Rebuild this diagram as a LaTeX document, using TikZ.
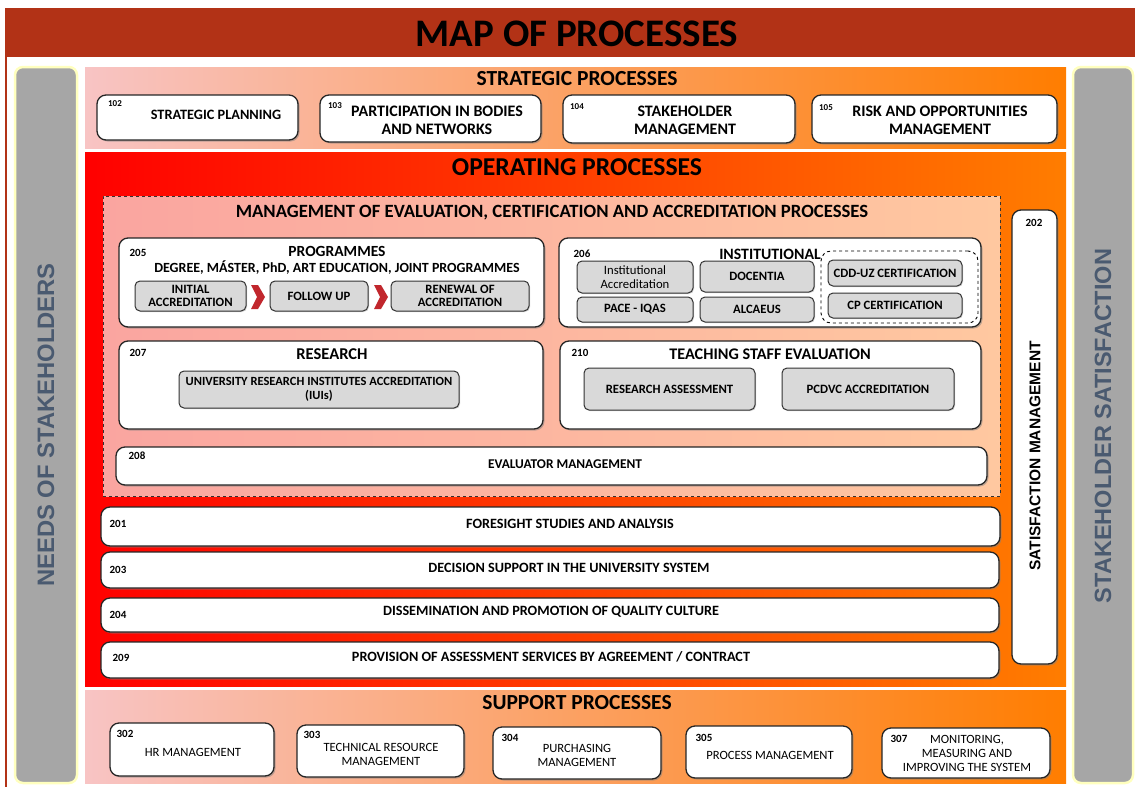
\documentclass[tikz,border=0pt]{standalone}
\usepackage{fontspec}
\setmainfont{Carlito}
\newfontfamily\arialb{Liberation Sans}
\usetikzlibrary{shadows}
\definecolor{titlered}{RGB}{178,50,22}
\definecolor{sidegray}{RGB}{166,166,166}
\definecolor{slate}{RGB}{74,90,112}
\definecolor{glow}{RGB}{255,255,190}
\definecolor{pinkL}{RGB}{248,196,196}
\definecolor{orangeR}{RGB}{255,125,0}
\definecolor{redL}{RGB}{255,0,0}
\definecolor{salmon}{RGB}{250,165,160}
\definecolor{peach}{RGB}{255,200,160}
\definecolor{subgray}{RGB}{217,217,217}
\definecolor{chev}{RGB}{193,39,45}
\newcommand\procbox[6]{\node[#6, minimum width={(#4-#2)*1pt}, minimum height={(#5-#3)*1pt}] (#1) at ({(#2+#4)/2},{(#3+#5)/2}) {};}
\newcommand\fsz[2]{\fontsize{#1}{#2}\selectfont}
\begin{document}
\begin{tikzpicture}[x=1pt,y=-1pt,
  box/.style={rounded corners=9pt, draw=black!85, line width=1.3pt, fill=white, inner sep=0pt, outer sep=0pt,
     drop shadow={opacity=0.5, shadow xshift=1.5pt, shadow yshift=-1.5pt}},
  subbox/.style={rounded corners=5pt, draw=black!80, line width=1pt, fill=subgray, inner sep=0pt, outer sep=0pt,
     drop shadow={opacity=0.35, shadow xshift=1pt, shadow yshift=-1pt}},
  band/.style={inner sep=0pt, outer sep=0pt},
  sidebar/.style={rounded corners=8pt, fill=sidegray, draw=glow, line width=2.5pt, inner sep=0pt},
  sidetxt/.style={font=\arialb\bfseries\fsz{23.8}{28}, text=slate, inner sep=0pt},
  hdr/.style={font=\bfseries\fsz{21.5}{25}, inner sep=0pt},
  lbl/.style={font=\bfseries\fsz{16}{18}, align=center, inner sep=0pt},
  row/.style={font=\bfseries\fsz{14.2}{17}, inner sep=0pt},
  sub/.style={font=\bfseries\fsz{12.7}{13.5}, align=center, inner sep=0pt},
  sup/.style={font=\fsz{12.6}{14}, align=center, inner sep=0pt},
  num/.style={font=\bfseries\fsz{9}{10}, inner sep=0pt},
  bnum/.style={font=\bfseries\fsz{11}{12}, inner sep=0pt}]
\useasboundingbox (0,0) rectangle (1135,787);
\fill[white] (0,0) rectangle (1135,787);
\draw[titlered, line width=2pt] (6,50) -- (6,787);
% title
\procbox{titlebar}{5}{8}{1135}{57}{band, fill=titlered}
\node[font=\bfseries\fsz{39}{44}, inner sep=0pt] (title) at (577,34) {MAP OF PROCESSES};
% side bars
\procbox{needs}{15}{67}{77}{783}{sidebar}
\node[sidetxt, rotate=90] (needst) at (46,425) {NEEDS OF STAKEHOLDERS};
\procbox{satis}{1073}{67}{1133}{783}{sidebar}
\node[sidetxt, font=\arialb\bfseries\fsz{23.5}{28}, rotate=90] (satist) at (1103,426) {STAKEHOLDER SATISFACTION};
% bands
\procbox{strat}{85}{67}{1066}{148}{band, left color=pinkL, right color=orangeR}
\procbox{oper}{85}{152}{1066}{686}{band, left color=redL, right color=orangeR}
\procbox{supp}{85}{690}{1066}{783}{band, left color=pinkL, right color=orangeR}
\node[hdr] (stratt) at (577,79) {STRATEGIC PROCESSES};
\node[hdr, font=\bfseries\fsz{25.7}{30}] (opert) at (577,167) {OPERATING PROCESSES};
\node[hdr] (suppt) at (577,703) {SUPPORT PROCESSES};
% strategic boxes
\procbox{s102}{97}{95}{298}{140}{box}
\procbox{s103}{320}{95}{541}{142}{box}
\procbox{s104}{563}{95}{795}{143}{box}
\procbox{s105}{812}{95}{1057}{143}{box}
\node[num] (n102) at (115,104) {102};
\node[num] (n103) at (335,106) {103};
\node[num] (n104) at (577,107) {104};
\node[num] (n105) at (826,108) {105};
\node[lbl, font=\bfseries\fsz{14.3}{17}] (t102) at (216,115) {STRATEGIC PLANNING};
\node[lbl] (t103) at (437,120) {PARTICIPATION IN BODIES\\AND NETWORKS};
\node[lbl] (t104) at (685,120) {STAKEHOLDER\\MANAGEMENT};
\node[lbl] (t105) at (940,120) {RISK AND OPPORTUNITIES\\MANAGEMENT};
% management dashed box
\procbox{mgmt}{103}{196}{1000}{496}{band, draw=black!80, dashed, line width=0.8pt, left color=salmon, right color=peach}
\node[hdr, font=\bfseries\fsz{18.7}{22}] (mgmtt) at (552,213) {MANAGEMENT OF EVALUATION, CERTIFICATION AND ACCREDITATION PROCESSES};
% 205
\procbox{p205}{119}{238}{544}{327}{box}
\node[bnum] (n205) at (138,253) {205};
\node[lbl, font=\bfseries\fsz{15.5}{18}] (t205) at (337,251) {PROGRAMMES};
\node[lbl, font=\bfseries\fsz{14}{16}] (t205b) at (337,268) {DEGREE, MÁSTER, PhD, ART EDUCATION, JOINT PROGRAMMES};
\procbox{ia}{135}{281}{246}{311}{subbox}
\procbox{fu}{270}{281}{368}{311}{subbox}
\procbox{ra}{391}{281}{529}{311}{subbox}
\node[sub] (iat) at (ia) {INITIAL\\ACCREDITATION};
\node[sub] (fut) at (fu) {FOLLOW UP};
\node[sub] (rat) at (ra) {RENEWAL OF\\ACCREDITATION};
\fill[chev] (251,285) -- (258,285) -- (265,297) -- (258,309) -- (251,309) -- (257,297) -- cycle;
\fill[chev] (374,285) -- (381,285) -- (388,297) -- (381,309) -- (374,309) -- (380,297) -- cycle;
% 206
\procbox{p206}{559}{238}{981}{327}{box}
\node[bnum] (n206) at (582,254) {206};
\node[lbl, font=\bfseries\fsz{15.8}{18}] (t206) at (770,254) {INSTITUTIONAL};
\procbox{instacc}{577}{261}{693}{293}{subbox}
\procbox{doc}{700}{261}{814}{292}{subbox}
\procbox{pace}{577}{297}{693}{322}{subbox}
\procbox{alc}{700}{297}{814}{322}{subbox}
\node[sub, font=\fsz{12.7}{13.5}] (instacct) at (instacc) {Institutional\\Accreditation};
\node[sub] (doct) at (doc) {DOCENTIA};
\node[sub] (pacet) at (pace) {PACE - IQAS};
\node[sub] (alct) at (alc) {ALCAEUS};
\procbox{cert}{821}{251}{978}{323}{band, draw=black, dashed, line width=0.9pt, rounded corners=10pt}
\procbox{cdd}{828}{260}{962}{286}{subbox}
\procbox{cp}{828}{293}{962}{318}{subbox}
\node[sub] (cddt) at (cdd) {CDD-UZ CERTIFICATION};
\node[sub] (cpt) at (cp) {CP CERTIFICATION};
% 207
\procbox{p207}{119}{341}{543}{429}{box}
\node[bnum] (n207) at (138,353) {207};
\node[lbl, font=\bfseries\fsz{16.5}{19}] (t207) at (332,354) {RESEARCH};
\procbox{iui}{179}{371}{459}{408}{subbox}
\node[sub, font=\bfseries\fsz{12.5}{14}] (iuit) at (iui) {UNIVERSITY RESEARCH INSTITUTES ACCREDITATION\\(IUIs)};
% 210
\procbox{p210}{560}{341}{981}{429}{box}
\node[bnum] (n210) at (580,353) {210};
\node[lbl, font=\bfseries\fsz{16.2}{19}] (t210) at (770,354) {TEACHING STAFF EVALUATION};
\procbox{ras}{584}{368}{755}{410}{subbox}
\procbox{pcd}{782}{368}{954}{410}{subbox}
\node[sub] (rast) at (ras) {RESEARCH ASSESSMENT};
\node[sub] (pcdt) at (pcd) {PCDVC ACCREDITATION};
% 208
\procbox{p208}{116}{447}{987}{485}{box}
\node[bnum] (n208) at (137,456) {208};
\node[row, font=\bfseries\fsz{13.4}{16}] (t208) at (565,464) {EVALUATOR MANAGEMENT};
% rows
\procbox{p201}{101}{507}{1000}{546}{box}
\procbox{p203}{101}{552}{999}{588}{box}
\procbox{p204}{101}{598}{999}{632}{box}
\procbox{p209}{101}{642}{999}{678}{box}
\node[bnum] (n201) at (118,524) {201};
\node[bnum] (n203) at (118,570) {203};
\node[bnum] (n204) at (118,615) {204};
\node[bnum] (n209) at (121,658) {209};
\node[row] (t201) at (570,524) {FORESIGHT STUDIES AND ANALYSIS};
\node[row] (t203) at (569,568) {DECISION SUPPORT IN THE UNIVERSITY SYSTEM};
\node[row] (t204) at (551,612) {DISSEMINATION AND PROMOTION OF QUALITY CULTURE};
\node[row] (t209) at (551,657) {PROVISION OF ASSESSMENT SERVICES BY AGREEMENT / CONTRACT};
% 202
\procbox{p202}{1012}{210}{1057}{664}{box}
\node[bnum] (n202) at (1034,223) {202};
\node[font=\arialb\bfseries\fsz{15.5}{18}, rotate=90, inner sep=0pt] (t202) at (1035,456) {SATISFACTION MANAGEMENT};
% support boxes
\procbox{s302}{110}{723}{274}{776}{box}
\procbox{s303}{297}{725}{464}{777}{box}
\procbox{s304}{493}{727}{661}{779}{box}
\procbox{s305}{686}{726}{852}{778}{box}
\procbox{s307}{882}{728}{1050}{778}{box}
\node[bnum] (n302) at (125,734) {302};
\node[bnum] (n303) at (312,735) {303};
\node[bnum] (n304) at (510,738) {304};
\node[bnum] (n305) at (704,738) {305};
\node[bnum] (n307) at (899,739) {307};
\node[sup] (t302) at (193,752) {HR MANAGEMENT};
\node[sup] (t303) at (381,754) {TECHNICAL RESOURCE\\MANAGEMENT};
\node[sup] (t304) at (577,755) {PURCHASING\\MANAGEMENT};
\node[sup] (t305) at (770,755) {PROCESS MANAGEMENT};
\node[sup] (t307) at (967,753) {MONITORING,\\MEASURING AND\\IMPROVING THE SYSTEM};
\end{tikzpicture}
\end{document}
